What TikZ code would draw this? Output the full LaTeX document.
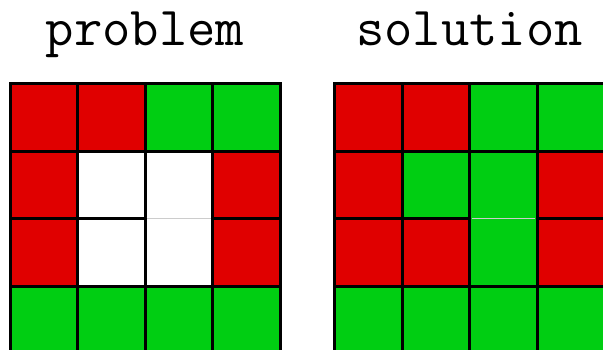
\documentclass[tikz,border=0pt]{standalone}
\definecolor{rojo}{RGB}{224,0,0}
\definecolor{verde}{RGB}{0,206,18}
\begin{document}
\begin{tikzpicture}[x=1pt, y=-1pt, line width=3pt]
    \useasboundingbox (0,0) rectangle (603,349);
    \tikzset{titulo/.style={font=\ttfamily\fontsize{55}{55}\selectfont, anchor=base}}

    % Titulos de cada cuadricula
    \node[titulo] (problema) at (145,45) {problem};
    \node[titulo] (solucion) at (469.5,45) {solution};

    % Celdas de la cuadricula del problema
    \foreach \c [count=\i from 0] in {rojo,rojo,verde,verde, rojo,white,white,rojo, rojo,white,white,rojo, verde,verde,verde,verde} {
        \pgfmathtruncatemacro\col{mod(\i,4)}
        \pgfmathtruncatemacro\fila{div(\i,4)}
        \fill[\c] (10+67.5*\col, 83.5+67.5*\fila) rectangle ++(67.5,67.5);
    }

    % Celdas de la cuadricula de la solucion
    \foreach \c [count=\i from 0] in {rojo,rojo,verde,verde, rojo,verde,verde,rojo, rojo,rojo,verde,rojo, verde,verde,verde,verde} {
        \pgfmathtruncatemacro\col{mod(\i,4)}
        \pgfmathtruncatemacro\fila{div(\i,4)}
        \fill[\c] (334.5+67.5*\col, 83.5+67.5*\fila) rectangle ++(67.5,67.5);
    }

    % Lineas de las dos cuadriculas
    \foreach \xo in {10,334.5} {
        \draw (\xo,83.5) rectangle (\xo+270,353.5);
        \foreach \k in {1,2,3} {
            \draw (\xo+67.5*\k, 83.5) -- (\xo+67.5*\k, 353.5);
            \draw (\xo, 83.5+67.5*\k) -- (\xo+270, 83.5+67.5*\k);
        }
    }

    % Borde gris entre las dos celdas centrales de la tercera columna
    \draw[white] (146.5,218.5) -- (211,218.5);
    \draw[gray!40, line width=1pt] (147,218.5) -- (210.5,218.5);
    \draw[verde] (471,218.5) -- (535.5,218.5);
    \draw[gray!40, line width=1pt] (471.5,218.5) -- (535,218.5);
\end{tikzpicture}
\end{document}
